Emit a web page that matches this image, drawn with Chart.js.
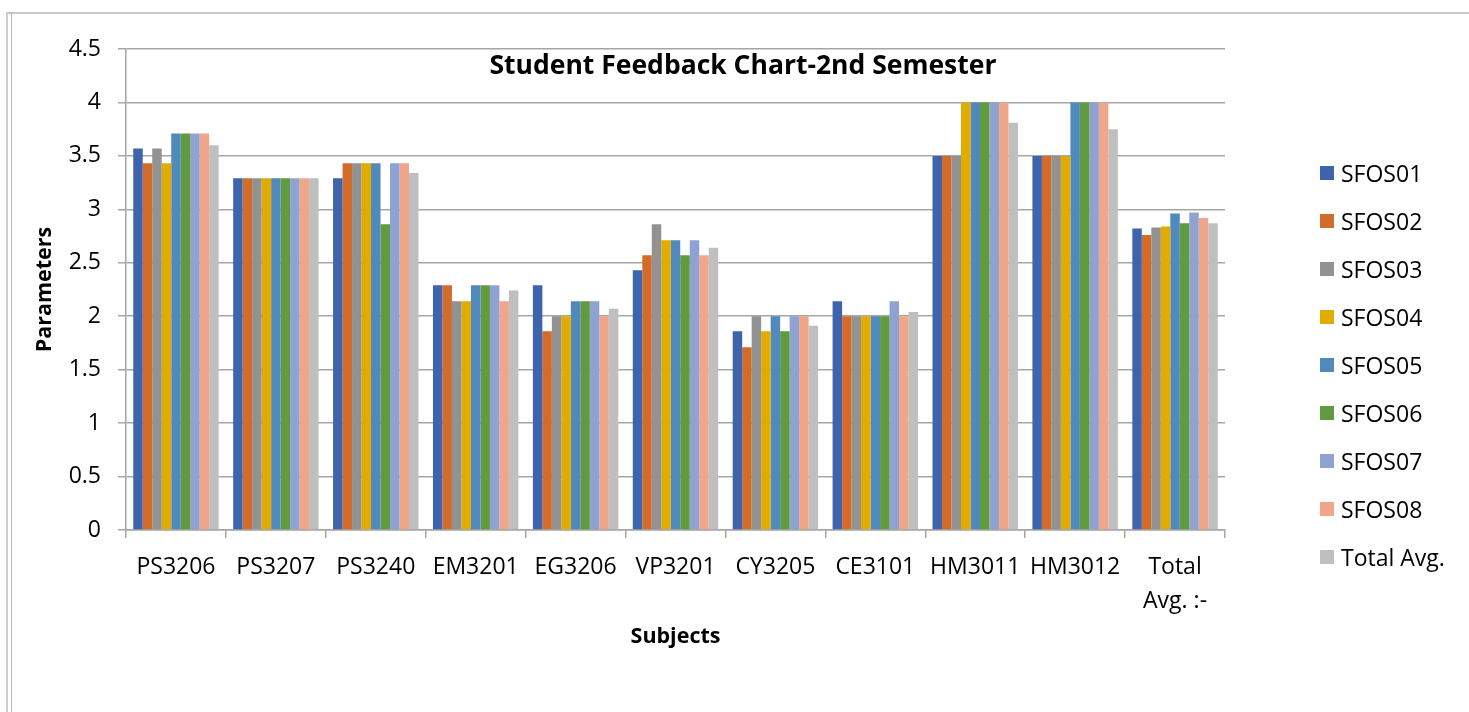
<!DOCTYPE html>
<html>
<head>
<meta charset="utf-8">
<script src="https://cdn.jsdelivr.net/npm/chart.js@4"></script>
<style>
  html, body { margin:0; padding:0; background:#fff; }
  body { width:1469px; height:712px; position:relative; overflow:hidden; font-family:"Open Sans", sans-serif; }
  #chart { position:absolute; left:0; top:0; }
  .frame-top { position:absolute; left:6px; top:12px; width:1463px; height:2px; background:#c8c8c8; }
  .frame-l1 { position:absolute; left:6px; top:12px; width:2px; height:700px; background:#cfcfcf; }
  .frame-l2 { position:absolute; left:11px; top:12px; width:1px; height:700px; background:#b8b8b8; }
  #title { position:absolute; left:743px; top:64px; transform:translate(-50%,-50%); font-weight:bold; font-size:26.5px; color:#000; white-space:nowrap; }
  #legend { position:absolute; left:1320px; top:0; }
  #legend .item { position:absolute; left:0; height:30px; white-space:nowrap; font-size:23px; color:#000; }
  #legend .sw { position:absolute; left:0; top:8px; width:14px; height:14px; }
  #legend .txt { position:absolute; left:21px; top:0; line-height:30px; }
</style>
</head>
<body>
<div class="frame-top"></div>
<div class="frame-l1"></div>
<div class="frame-l2"></div>
<canvas id="chart" width="1469" height="712"></canvas>
<div id="title">Student Feedback Chart-2nd Semester</div>
<div id="legend"></div>
<script>
// subjects on the x axis
const categories = ['PS3206','PS3207','PS3240','EM3201','EG3206','VP3201','CY3205','CE3101','HM3011','HM3012',['Total','Avg. :-']];
const seriesNames = ['SFOS01','SFOS02','SFOS03','SFOS04','SFOS05','SFOS06','SFOS07','SFOS08','Total Avg.'];
const seriesColors = ['#3e64ae','#d36c2a','#929292','#e2ab00','#508abd','#629a3f','#8fa3d3','#f0a688','#bfbfbf'];

// values
const sfos01 = [3.57,3.29,3.29,2.29,2.29,2.43,1.86,2.14,3.5,3.5,2.82];
const sfos02 = [3.43,3.29,3.43,2.29,1.86,2.57,1.71,2.0,3.5,3.5,2.76];
const sfos03 = [3.57,3.29,3.43,2.14,2.0,2.86,2.0,2.0,3.5,3.5,2.83];
const sfos04 = [3.43,3.29,3.43,2.14,2.0,2.71,1.86,2.0,4.0,3.5,2.84];
const sfos05 = [3.71,3.29,3.43,2.29,2.14,2.71,2.0,2.0,4.0,4.0,2.96];
const sfos06 = [3.71,3.29,2.86,2.29,2.14,2.57,1.86,2.0,4.0,4.0,2.87];
const sfos07 = [3.71,3.29,3.43,2.29,2.14,2.71,2.0,2.14,4.0,4.0,2.97];
const sfos08 = [3.71,3.29,3.43,2.14,2.0,2.57,2.0,2.0,4.0,4.0,2.92];
const totalAvg = [3.60,3.29,3.34,2.24,2.07,2.64,1.91,2.04,3.81,3.75,2.87];

const seriesValues = [sfos01,sfos02,sfos03,sfos04,sfos05,sfos06,sfos07,sfos08,totalAvg];

function buildLegend(){
  const wrap = document.getElementById('legend');
  seriesNames.forEach((n,i) => {
    const d = document.createElement('div');
    d.className = 'item';
    d.style.top = (173 + i*48 - 15) + 'px';
    const sw = document.createElement('span');
    sw.className = 'sw';
    sw.style.background = seriesColors[i];
    d.appendChild(sw);
    const t = document.createElement('span');
    t.className = 'txt';
    t.textContent = n;
    d.appendChild(t);
    wrap.appendChild(d);
  });
}
buildLegend();

const gridCol = '#a6a6a6';

new Chart(document.getElementById('chart').getContext('2d'), {
  type: 'bar',
  data: {
    labels: categories,
    datasets: seriesNames.map((n,i) => ({
      label: n,
      data: seriesValues[i],
      backgroundColor: seriesColors[i],
      borderWidth: 0,
      barPercentage: 1,
      categoryPercentage: 0.855
    }))
  },
  options: {
    responsive: false,
    animation: false,
    layout: { padding: { left: 0, right: 244, top: 49, bottom: 0 } },
    plugins: { legend: { display: false }, tooltip: { enabled: false } },
    scales: {
      x: {
        afterFit: s => { s.height = 182; },
        grid: { offset: true, drawOnChartArea: false, color: gridCol, lineWidth: 1.5, tickLength: 8 },
        border: { color: gridCol, width: 1.5 },
        ticks: { color: '#000', font: { family: 'Open Sans', size: 23, lineHeight: 1.45 }, padding: 13, maxRotation: 0, autoSkip: false },
        title: { display: true, text: 'Subjects', color: '#000', font: { family: 'Open Sans', size: 21.5, weight: 'bold', lineHeight: 1.2 }, padding: { top: 62, bottom: 62 } }
      },
      y: {
        min: 0, max: 4.5,
        afterFit: s => { s.width = 126; },
        ticks: { stepSize: 0.5, color: '#000', font: { family: 'Open Sans', size: 23 }, padding: 17, callback: v => String(v) },
        grid: { color: gridCol, lineWidth: 1.5, tickLength: 8 },
        border: { color: gridCol, width: 1.5 },
        title: { display: true, text: 'Parameters', color: '#000', font: { family: 'Open Sans', size: 21.5, weight: 'bold', lineHeight: 1.2 }, padding: { top: 32, bottom: 32 } }
      }
    }
  }
});
</script>
</body>
</html>
